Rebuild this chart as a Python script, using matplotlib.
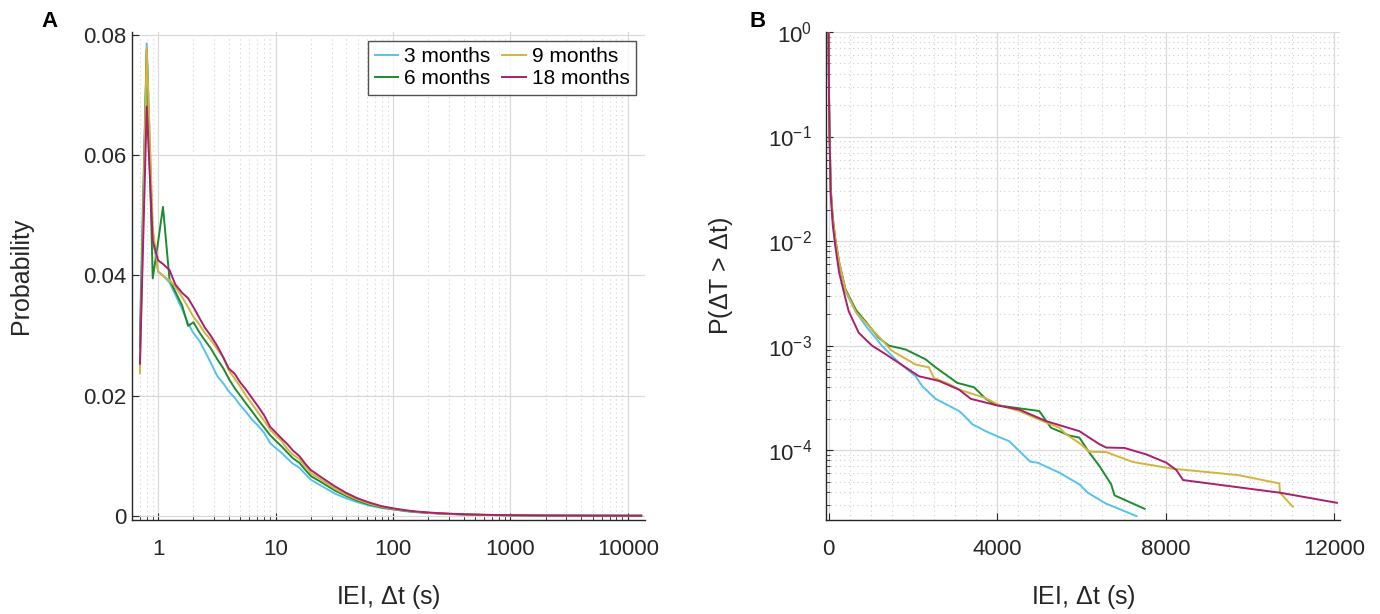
import matplotlib
matplotlib.use("Agg")
import matplotlib.pyplot as plt
from matplotlib.ticker import LogLocator, LogFormatterMathtext, MultipleLocator, NullFormatter, FixedLocator

plt.rcParams['font.family'] = ['Liberation Sans', 'DejaVu Sans']
plt.rcParams['mathtext.fontset'] = 'custom'
plt.rcParams['mathtext.rm'] = 'Liberation Sans'
plt.rcParams['mathtext.it'] = 'Liberation Sans'
plt.rcParams['mathtext.default'] = 'regular'

labels = ['3 months', '6 months', '9 months', '18 months']
colors = ['#55C2EE', '#1F8A2E', '#D4B43A', '#A8206E']

# panel A: probability per IEI bin (s)
iei_bins = [0.7, 0.8, 0.9, 1.0, 1.1, 1.25, 1.4, 1.6, 1.8, 2.0, 2.25, 2.5, 2.8, 3.2, 3.6, 4.0,
            4.5, 5, 5.6, 6.3, 7.1, 8, 9, 10, 11.2, 12.5, 14, 16, 18, 20, 25, 32, 40, 50, 63,
            80, 100, 130, 160, 200, 250, 320, 400, 500, 700, 1000, 2000, 5000, 13000]
prob_3m = [0.031, 0.0786, 0.0463, 0.0406, 0.0400, 0.0388, 0.0368, 0.0344, 0.0320, 0.0304,
           0.0291, 0.0274, 0.0255, 0.0232, 0.0220, 0.0207, 0.0196, 0.0184, 0.0173, 0.0160,
           0.0150, 0.0138, 0.0121, 0.0113, 0.0105, 0.0096, 0.0087, 0.0080, 0.0069, 0.0060,
           0.0049, 0.0037, 0.0029, 0.00225, 0.0017, 0.0013, 0.00105, 0.00075, 0.0006,
           0.00047, 0.00037, 0.00028, 0.00022, 0.00017, 0.00012, 0.00008, 0.00004, 0.00002, 0.00001]
prob_6m = [0.028, 0.0775, 0.0395, 0.0456, 0.0514, 0.0393, 0.0373, 0.0350, 0.0316, 0.0322,
           0.0305, 0.0292, 0.0279, 0.0260, 0.0245, 0.0228, 0.0212, 0.0200, 0.0187, 0.0174,
           0.0160, 0.0147, 0.0134, 0.0125, 0.0116, 0.0106, 0.0096, 0.0088, 0.0076, 0.0066,
           0.0055, 0.0042, 0.0033, 0.0025, 0.00185, 0.0014, 0.0011, 0.0008, 0.00062,
           0.00048, 0.00038, 0.00029, 0.00023, 0.00018, 0.00012, 0.00008, 0.00004, 0.00002, 0.00001]
prob_9m = [0.0237, 0.0778, 0.048, 0.0407, 0.0399, 0.0392, 0.0381, 0.0364, 0.0347, 0.0331,
           0.0318, 0.0304, 0.0293, 0.0277, 0.0263, 0.0242, 0.0228, 0.0215, 0.0200, 0.0186,
           0.0172, 0.0158, 0.0143, 0.0134, 0.0125, 0.0112, 0.0102, 0.0094, 0.0082, 0.0071,
           0.0059, 0.0045, 0.0035, 0.0027, 0.0020, 0.0015, 0.00115, 0.00085, 0.00066,
           0.0005, 0.0004, 0.0003, 0.00024, 0.00019, 0.00013, 0.00009, 0.00004, 0.00002, 0.00001]
prob_18m = [0.0253, 0.0681, 0.0457, 0.0425, 0.0419, 0.0409, 0.0385, 0.0371, 0.0362, 0.0347,
            0.0329, 0.0313, 0.0300, 0.0282, 0.0263, 0.0245, 0.0236, 0.0222, 0.0210, 0.0196,
            0.0182, 0.0167, 0.0148, 0.0139, 0.0129, 0.0120, 0.0109, 0.0099, 0.0086, 0.0076,
            0.0063, 0.0049, 0.0038, 0.0029, 0.0022, 0.0016, 0.00125, 0.0009, 0.0007,
            0.00055, 0.00043, 0.00033, 0.00026, 0.0002, 0.00014, 0.0001, 0.00005, 0.00002, 0.00001]

# panel B: complementary cumulative distribution
t_3m = [0, 10, 25, 50, 100, 160, 250, 400, 650, 900, 1143, 1262, 1667, 2063, 2222, 2540,
        3095, 3167, 3413, 3730, 4000, 4286, 4786, 4960, 5476, 5952, 6151, 6580, 7309]
ccdf_3m = [1, 0.251, 0.1, 0.0316, 0.0158, 0.01, 0.006, 0.0033, 0.00209, 0.00151, 0.00115,
           0.001, 0.00069, 0.00051, 0.00041, 0.00031, 0.000237, 0.000224, 0.000177, 0.000152,
           0.000136, 0.000122, 0.0000776, 0.0000759, 0.000061, 0.0000471, 0.0000392,
           0.0000309, 0.0000234]
t_6m = [0, 10, 25, 50, 100, 160, 250, 400, 650, 900, 1190, 1428, 1826, 2302, 2540, 3055,
        3452, 3730, 3969, 5000, 5278, 5714, 5952, 6190, 6429, 6707, 6786, 7500]
ccdf_6m = [1, 0.251, 0.1, 0.0316, 0.0166, 0.0105, 0.0063, 0.00347, 0.00219, 0.00166,
           0.00119, 0.001, 0.00092, 0.00074, 0.00062, 0.00044, 0.0004, 0.00031, 0.00027,
           0.000237, 0.000164, 0.000138, 0.000132, 0.0000946, 0.0000705, 0.0000471,
           0.000037, 0.0000275]
t_9m = [0, 10, 25, 50, 100, 160, 250, 400, 650, 1031, 1507, 2064, 2381, 2500, 2857, 3095,
        3571, 3690, 4048, 4524, 5079, 5476, 5635, 5952, 6190, 6588, 7222, 8174, 9722,
        10698, 10714, 11017]
ccdf_9m = [1, 0.251, 0.1, 0.0316, 0.0166, 0.0102, 0.0063, 0.00339, 0.00209, 0.00143,
           0.00089, 0.00066, 0.00062, 0.00049, 0.00043, 0.00038, 0.00033, 0.00032, 0.00027,
           0.000237, 0.00019, 0.000164, 0.000142, 0.000117, 0.0000966, 0.0000959,
           0.0000771, 0.0000665, 0.0000578, 0.0000481, 0.0000392, 0.0000288]
t_18m = [0, 10, 25, 50, 100, 160, 250, 400, 476, 714, 1031, 1350, 1826, 2143, 2619, 3095,
         3374, 3969, 4524, 5159, 5952, 6429, 6588, 7024, 7540, 8016, 8254, 8413, 10714, 12064]
ccdf_18m = [1, 0.224, 0.089, 0.0282, 0.0141, 0.0089, 0.005, 0.00282, 0.00214, 0.00133,
            0.001, 0.00083, 0.00062, 0.00051, 0.00046, 0.00038, 0.00031, 0.00027, 0.000245,
            0.00019, 0.000152, 0.000114, 0.000106, 0.000105, 0.0000912, 0.0000759,
            0.0000646, 0.0000518, 0.0000392, 0.0000314]

axis_col = '#262626'

fig = plt.figure(figsize=(13.8, 6.14), dpi=100)
axA = fig.add_axes([0.0957, 0.1531, 0.3717, 0.7948])
axB = fig.add_axes([0.5986, 0.1531, 0.3725, 0.7948])


def style(ax):
    for s in ['top', 'right']:
        ax.spines[s].set_visible(False)
    for s in ['left', 'bottom']:
        ax.spines[s].set_color(axis_col)
        ax.spines[s].set_linewidth(1.0)
    ax.tick_params(which='both', direction='in', colors=axis_col, labelsize=16)
    ax.tick_params(which='major', length=5)
    ax.tick_params(axis='x', which='major', pad=14)
    ax.tick_params(axis='y', which='major', pad=4)
    ax.tick_params(which='minor', length=3)
    ax.grid(True, which='major', color='#DADADA', linewidth=0.9)
    ax.set_axisbelow(True)


# ---- panel A
style(axA)
for y, lab, c in zip([prob_3m, prob_6m, prob_9m, prob_18m], labels, colors):
    axA.plot(iei_bins, y, color=c, linewidth=1.4, label=lab)
axA.set_xscale('log')
axA.set_xlim(0.6, 14000)
axA.set_ylim(-0.0007, 0.0805)
axA.set_yticks([0, 0.02, 0.04, 0.06, 0.08])
axA.set_yticklabels(['0', '0.02', '0.04', '0.06', '0.08'])
axA.xaxis.set_major_locator(FixedLocator([1, 10, 100, 1000, 10000]))
axA.set_xticklabels(['1', '10', '100', '1000', '10000'])
axA.xaxis.set_minor_locator(LogLocator(base=10, subs=range(2, 10), numticks=20))
axA.xaxis.set_minor_formatter(NullFormatter())
axA.grid(True, which='minor', axis='x', color='#CFCFCF', linestyle=(0, (1, 3)), linewidth=0.8)
axA.set_xlabel('IEI, $\\Delta$t (s)', fontsize=18, labelpad=16, color=axis_col)
axA.set_ylabel('Probability', fontsize=18, labelpad=36, color=axis_col)
leg = axA.legend(ncol=2, loc='upper right', bbox_to_anchor=(0.99, 0.99), fontsize=15,
                 frameon=True, fancybox=False, handlelength=1.15, handletextpad=0.25,
                 columnspacing=0.6, labelspacing=0.15, borderpad=0.3, borderaxespad=0.2)
leg.get_frame().set_edgecolor(axis_col)
leg.get_frame().set_linewidth(1.0)

# ---- panel B
style(axB)
for t, p, c in zip([t_3m, t_6m, t_9m, t_18m], [ccdf_3m, ccdf_6m, ccdf_9m, ccdf_18m], colors):
    axB.plot(t, p, color=c, linewidth=1.4)
axB.set_yscale('log')
axB.set_xlim(-60, 12140)
axB.set_ylim(2.15e-5, 1)
axB.set_xticks([0, 4000, 8000, 12000])
axB.xaxis.set_minor_locator(MultipleLocator(500))
axB.tick_params(axis='x', which='minor', length=0)
axB.yaxis.set_major_locator(LogLocator(base=10, numticks=10))
axB.yaxis.set_major_formatter(LogFormatterMathtext())
axB.yaxis.set_minor_locator(LogLocator(base=10, subs=range(2, 10), numticks=20))
axB.yaxis.set_minor_formatter(NullFormatter())
axB.tick_params(axis='y', which='major', pad=10)
axB.grid(True, which='minor', color='#CFCFCF', linestyle=(0, (1, 3)), linewidth=0.8)
axB.set_xlabel('IEI, $\\Delta$t (s)', fontsize=18, labelpad=16, color=axis_col)
axB.set_ylabel('P($\\Delta$T > $\\Delta$t)', fontsize=18, labelpad=24, color=axis_col)

fig.text(0.030, 0.965, 'A', fontsize=16, fontweight='bold', ha='left', va='center')
fig.text(0.543, 0.965, 'B', fontsize=16, fontweight='bold', ha='left', va='center')

fig.savefig('out.png', dpi=100)
